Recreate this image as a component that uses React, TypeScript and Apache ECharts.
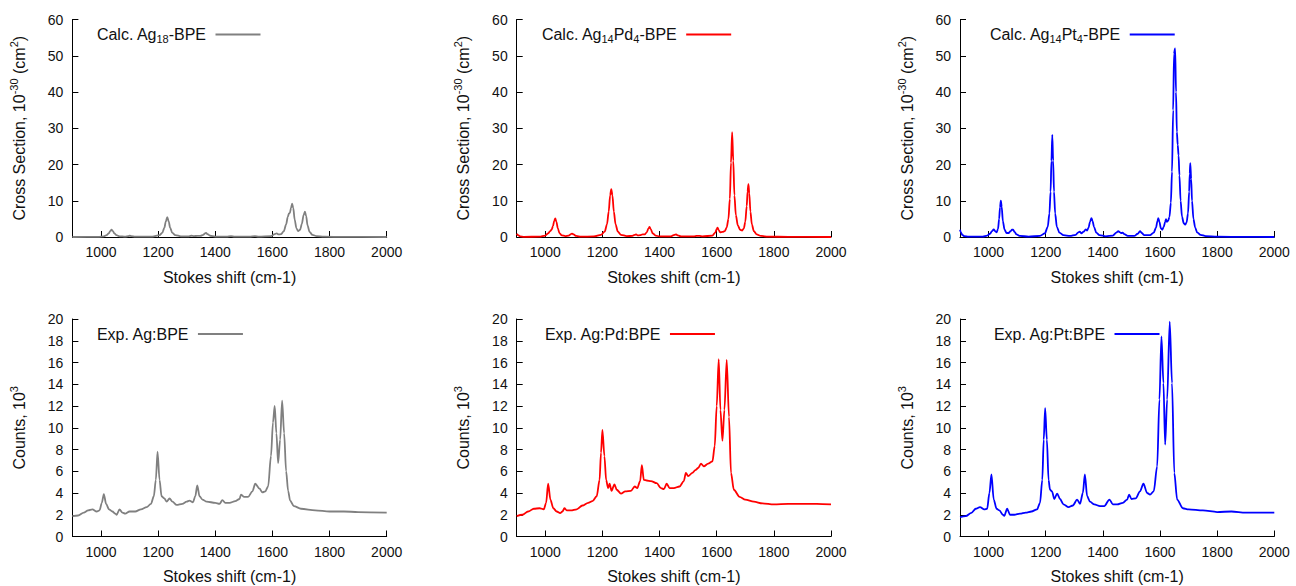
import React, { useEffect, useRef } from 'react';
import * as echarts from 'echarts';

const xTicks = [1000, 1200, 1400, 1600, 1800, 2000];

const calcAg18: [number, number][] = [
  [900, 0], [990, 0.05], [1010, 0.2], [1020, 0.5], [1027, 1.0], [1032, 1.6], [1037, 2.0], [1042, 1.6], [1047, 1.0], [1054, 0.5], [1065, 0.2],
  [1085, 0.1], [1096, 0.25], [1101, 0.35], [1106, 0.25], [1120, 0.08], [1180, 0.1], [1205, 0.5], [1215, 1.2], [1222, 2.6], [1227, 4.3],
  [1232, 5.5], [1237, 4.3], [1242, 2.6], [1249, 1.2], [1260, 0.5], [1280, 0.2], [1305, 0.2], [1316, 0.35], [1325, 0.25], [1338, 0.3],
  [1348, 0.3], [1358, 0.6], [1364, 1.0], [1368, 1.1], [1373, 0.8], [1382, 0.35], [1400, 0.1], [1440, 0.1], [1455, 0.25], [1468, 0.08],
  [1520, 0.08], [1539, 0.25], [1552, 0.08], [1595, 0.25], [1608, 0.8], [1615, 1.0], [1622, 0.7], [1630, 0.8], [1640, 1.6], [1648, 3.5],
  [1654, 5.6], [1658, 6.5], [1661, 6.6], [1665, 8.0], [1669, 9.2], [1673, 8.0], [1678, 4.8], [1684, 2.4], [1690, 1.6], [1697, 2.0],
  [1703, 3.6], [1709, 6.0], [1714, 7.0], [1718, 5.8], [1723, 3.2], [1730, 1.4], [1740, 0.6], [1755, 0.25], [1780, 0.08], [1850, 0.02], [2000, 0],
];

const calcAgPd: [number, number][] = [
  [900, 0.9], [905, 0.5], [912, 0.2], [925, 0.05], [980, 0.1], [1000, 0.4], [1010, 1.0], [1017, 1.6], [1022, 2.0], [1027, 3.0], [1031, 4.4],
  [1035, 5.1], [1039, 4.2], [1044, 2.4], [1050, 1.0], [1058, 0.45], [1070, 0.25], [1082, 0.4], [1090, 0.8], [1094, 0.95], [1099, 0.7],
  [1108, 0.3], [1125, 0.1], [1170, 0.15], [1195, 0.6], [1208, 1.5], [1216, 3.5], [1222, 7.0], [1227, 11.5], [1231, 13.2], [1235, 11.5],
  [1240, 7.0], [1246, 3.5], [1254, 1.5], [1265, 0.6], [1285, 0.25], [1305, 0.3], [1313, 0.6], [1318, 0.7], [1323, 0.45], [1332, 0.5],
  [1341, 0.75], [1348, 0.7], [1355, 1.3], [1361, 2.3], [1365, 2.8], [1369, 2.2], [1376, 1.0], [1386, 0.4], [1400, 0.15], [1440, 0.2],
  [1452, 0.6], [1458, 0.7], [1464, 0.45], [1475, 0.15], [1520, 0.15], [1530, 0.3], [1540, 0.3], [1550, 0.15], [1585, 0.4], [1595, 1.2],
  [1600, 2.2], [1603, 2.6], [1607, 1.9], [1612, 1.3], [1620, 1.4], [1628, 1.6], [1635, 2.6], [1641, 5.0], [1646, 10.5], [1650, 20.5],
  [1654, 28.9], [1658, 21.0], [1662, 11.5], [1667, 6.0], [1674, 3.2], [1682, 2.0], [1689, 1.8], [1695, 2.4], [1700, 4.2], [1705, 8.5],
  [1708, 12.5], [1711, 14.6], [1714, 12.0], [1718, 7.0], [1723, 3.5], [1730, 1.6], [1740, 0.7], [1755, 0.3], [1780, 0.1], [1850, 0.03], [2000, 0],
];

const calcAgPt: [number, number][] = [
  [900, 2.0], [903, 1.3], [908, 0.6], [915, 0.25], [930, 0.08], [980, 0.1], [995, 0.4], [1005, 0.9], [1012, 1.6], [1018, 2.1], [1023, 1.6],
  [1028, 1.3], [1033, 2.2], [1037, 5.0], [1040, 8.2], [1043, 10.0], [1046, 8.3], [1050, 4.4], [1056, 2.0], [1063, 1.1], [1070, 1.1],
  [1077, 1.6], [1082, 2.0], [1086, 2.0], [1091, 1.4], [1098, 0.7], [1110, 0.3], [1140, 0.12], [1180, 0.3], [1197, 1.0], [1207, 2.8],
  [1213, 6.5], [1217, 12.5], [1220, 21.0], [1223, 28.2], [1226, 21.0], [1229, 12.5], [1233, 6.5], [1239, 2.8], [1248, 1.2], [1262, 0.5],
  [1285, 0.3], [1305, 0.6], [1314, 1.3], [1319, 1.5], [1325, 1.0], [1333, 1.5], [1340, 2.1], [1345, 1.8], [1350, 2.6], [1355, 4.2],
  [1360, 5.2], [1364, 4.4], [1369, 2.8], [1377, 1.2], [1388, 0.5], [1410, 0.2], [1435, 0.4], [1447, 1.2], [1454, 1.6], [1460, 1.3],
  [1465, 1.1], [1469, 1.2], [1475, 0.8], [1487, 0.3], [1510, 0.3], [1522, 0.9], [1530, 1.6], [1536, 1.1], [1545, 0.5], [1565, 0.5],
  [1578, 1.2], [1586, 2.6], [1591, 4.4], [1594, 5.2], [1598, 4.2], [1603, 2.4], [1608, 2.0], [1613, 2.8], [1618, 4.2], [1621, 4.9],
  [1624, 4.2], [1628, 4.4], [1633, 5.5], [1638, 9.5], [1642, 18.0], [1646, 35.0], [1649, 50.5], [1651, 50.6], [1653, 52.0], [1656, 40.0],
  [1659, 29.0], [1662, 25.4], [1665, 22.5], [1668, 17.0], [1672, 10.0], [1677, 5.6], [1683, 3.8], [1688, 3.4], [1693, 4.0], [1698, 6.5],
  [1702, 12.5], [1704, 17.5], [1706, 20.4], [1709, 16.0], [1712, 10.0], [1717, 5.0], [1723, 2.6], [1730, 1.3], [1742, 0.6], [1760, 0.25],
  [1800, 0.08], [1900, 0.02], [2000, 0],
];

const expAg: [number, number][] = [
  [900, 1.87], [920, 1.93], [940, 2.2], [955, 2.4], [970, 2.5], [985, 2.3], [995, 2.4], [1003, 3.1], [1010, 3.9], [1018, 3.0], [1028, 2.5],
  [1040, 2.3], [1050, 2.1], [1055, 2.0], [1065, 2.5], [1075, 2.2], [1085, 2.1], [1100, 2.3], [1120, 2.3], [1140, 2.5], [1160, 2.7],
  [1175, 3.0], [1185, 3.7], [1192, 5.2], [1198, 7.8], [1205, 5.2], [1212, 3.7], [1222, 3.5], [1230, 3.2], [1240, 3.5], [1250, 3.2],
  [1265, 2.9], [1285, 3.0], [1300, 3.2], [1310, 3.3], [1322, 3.15], [1330, 3.7], [1337, 4.7], [1345, 3.7], [1355, 3.4], [1370, 3.2],
  [1400, 3.1], [1415, 3.0], [1425, 3.35], [1435, 3.1], [1450, 3.1], [1470, 3.25], [1485, 3.45], [1490, 3.85], [1500, 3.65], [1515, 3.65],
  [1530, 4.15], [1540, 4.85], [1555, 4.4], [1565, 4.05], [1575, 4.15], [1585, 4.6], [1595, 7.4], [1602, 10.5], [1608, 12.0], [1614, 9.5],
  [1620, 6.75], [1627, 8.9], [1634, 12.5], [1641, 9.5], [1648, 6.0], [1655, 4.2], [1662, 3.3], [1675, 2.8], [1700, 2.55], [1750, 2.4],
  [1800, 2.3], [1850, 2.3], [1900, 2.25], [2000, 2.2],
];

const expAgPd: [number, number][] = [
  [900, 1.87], [920, 2.0], [940, 2.3], [960, 2.55], [980, 2.6], [995, 2.5], [1003, 3.1], [1010, 4.85], [1018, 3.4], [1028, 2.6], [1040, 2.3],
  [1052, 2.15], [1060, 2.3], [1067, 2.6], [1075, 2.4], [1090, 2.4], [1110, 2.5], [1130, 2.85], [1150, 3.1], [1165, 3.25], [1180, 3.7],
  [1190, 5.2], [1195, 7.7], [1200, 9.8], [1207, 7.4], [1213, 5.2], [1220, 4.45], [1225, 4.85], [1232, 4.2], [1242, 4.8], [1250, 4.3],
  [1265, 3.95], [1280, 4.15], [1300, 4.2], [1313, 4.6], [1322, 4.45], [1332, 5.1], [1338, 6.55], [1345, 5.2], [1355, 5.15], [1370, 5.1],
  [1390, 4.9], [1405, 4.45], [1415, 4.35], [1425, 4.85], [1435, 4.45], [1450, 4.45], [1470, 4.6], [1485, 5.1], [1492, 5.85], [1500, 5.55],
  [1515, 5.85], [1525, 6.1], [1535, 6.3], [1545, 6.7], [1555, 6.45], [1570, 6.7], [1585, 6.9], [1593, 8.3], [1600, 12.0], [1607, 16.3],
  [1613, 11.65], [1620, 8.8], [1627, 11.65], [1635, 16.25], [1643, 11.0], [1650, 5.85], [1660, 4.3], [1680, 3.65], [1700, 3.4], [1730, 3.2],
  [1760, 3.05], [1800, 2.95], [1850, 3.0], [1900, 3.0], [1950, 3.0], [2000, 2.95],
];

const expAgPt: [number, number][] = [
  [900, 1.77], [920, 1.87], [940, 2.17], [955, 2.55], [970, 2.7], [985, 2.5], [995, 2.55], [1003, 4.0], [1010, 5.7], [1018, 3.4], [1028, 2.55],
  [1038, 2.4], [1050, 2.0], [1055, 1.9], [1065, 2.55], [1075, 2.0], [1090, 2.0], [1110, 2.1], [1130, 2.2], [1150, 2.3], [1170, 2.5],
  [1180, 3.1], [1188, 5.2], [1193, 8.9], [1198, 11.8], [1204, 8.9], [1210, 5.2], [1215, 4.3], [1222, 4.15], [1230, 3.45], [1240, 3.95],
  [1250, 3.45], [1262, 2.95], [1280, 2.7], [1295, 2.85], [1310, 3.4], [1320, 3.0], [1330, 4.0], [1337, 5.7], [1345, 3.7], [1355, 3.2],
  [1370, 2.95], [1390, 2.8], [1405, 2.8], [1423, 3.4], [1435, 2.95], [1450, 2.95], [1470, 3.1], [1485, 3.4], [1492, 3.85], [1500, 3.45],
  [1515, 3.5], [1530, 4.15], [1542, 4.85], [1555, 4.0], [1565, 3.85], [1578, 4.15], [1590, 6.45], [1598, 12.6], [1605, 18.4], [1612, 14.1],
  [1618, 8.45], [1625, 12.6], [1634, 19.75], [1642, 14.1], [1650, 5.85], [1660, 3.4], [1680, 2.6], [1700, 2.5], [1750, 2.4], [1800, 2.25],
  [1850, 2.3], [1900, 2.2], [2000, 2.2],
];

const FONT = '"Liberation Sans", Arial, Helvetica, sans-serif';
const TXT = '#111';

const colLeft = [72.4, 516.7, 960];
const rowTop = [19.5, 319];
const gridW = 314.3;
const gridH = 217.5;

const panels = [
  { name: 'Calc. Ag18-BPE', label: 'Calc. Ag{sub|18}-BPE', color: '#808080', data: calcAg18, row: 0, col: 0, lx: 96 },
  { name: 'Calc. Ag14Pd4-BPE', label: 'Calc. Ag{sub|14}Pd{sub|4}-BPE', color: '#ff0000', data: calcAgPd, row: 0, col: 1, lx: 541 },
  { name: 'Calc. Ag14Pt4-BPE', label: 'Calc. Ag{sub|14}Pt{sub|4}-BPE', color: '#0000ff', data: calcAgPt, row: 0, col: 2, lx: 989 },
  { name: 'Exp. Ag:BPE', label: 'Exp. Ag:BPE', color: '#808080', data: expAg, row: 1, col: 0, lx: 96 },
  { name: 'Exp. Ag:Pd:BPE', label: 'Exp. Ag:Pd:BPE', color: '#ff0000', data: expAgPd, row: 1, col: 1, lx: 544 },
  { name: 'Exp. Ag:Pt:BPE', label: 'Exp. Ag:Pt:BPE', color: '#0000ff', data: expAgPt, row: 1, col: 2, lx: 993 },
];

const rich = {
  sub: { fontSize: 11, fontFamily: FONT, color: TXT, verticalAlign: 'bottom', lineHeight: 11 },
  sup: { fontSize: 11, fontFamily: FONT, color: TXT, verticalAlign: 'top', lineHeight: 11 },
};

export default function App() {
  const ref = useRef<HTMLDivElement>(null);
  useEffect(() => {
    if (!ref.current) return;
    const chart = echarts.init(ref.current, undefined, { renderer: 'svg' });
    const option: any = {
      animation: false,
      backgroundColor: '#fff',
      grid: panels.map((p) => ({ left: colLeft[p.col], top: rowTop[p.row], width: gridW, height: gridH })),
      xAxis: panels.map((p, i) => ({
        gridIndex: i,
        type: 'value',
        min: 900,
        max: 2000,
        axisLine: { show: true, lineStyle: { color: '#000', width: 1 } },
        axisTick: { show: true, inside: true, length: 6, customValues: xTicks, lineStyle: { color: '#000' } },
        axisLabel: { customValues: xTicks, fontSize: 14, color: TXT, fontFamily: FONT, margin: 8, formatter: (v: number) => String(v) },
        splitLine: { show: false },
        name: 'Stokes shift (cm-1)',
        nameLocation: 'middle',
        nameGap: 32,
        nameTextStyle: { fontSize: 16, color: TXT, fontFamily: FONT },
      })),
      yAxis: panels.map((p, i) => ({
        gridIndex: i,
        type: 'value',
        min: 0,
        max: p.row === 0 ? 60 : 20,
        interval: p.row === 0 ? 10 : 2,
        axisLine: { show: true, lineStyle: { color: '#000', width: 1 } },
        axisTick: { show: true, inside: true, length: 6, lineStyle: { color: '#000' } },
        axisLabel: { fontSize: 14, color: TXT, fontFamily: FONT, margin: 9 },
        splitLine: { show: false },
        name: p.row === 0 ? 'Cross Section, 10{sup|-30} (cm{sup|2})' : 'Counts, 10{sup|3}',
        nameLocation: 'middle',
        nameRotate: 90,
        nameGap: 42,
        nameTextStyle: { fontSize: 16, color: TXT, fontFamily: FONT, lineHeight: 22, rich },
      })),
      legend: panels.map((p) => ({
        data: [{ name: p.name, icon: 'rect' }],
        left: p.lx,
        top: rowTop[p.row] + 5,
        padding: 0,
        align: 'right',
        itemWidth: 45,
        itemHeight: 2,
        selectedMode: false,
        itemStyle: { color: p.color, borderWidth: 0 },
        lineStyle: { width: 0 },
        formatter: () => p.label + ' ',
        textStyle: { fontSize: 16, color: TXT, fontFamily: FONT, lineHeight: 20, rich },
      })),
      series: panels.map((p, i) => ({
        name: p.name,
        type: 'line',
        xAxisIndex: i,
        yAxisIndex: i,
        data: p.data,
        showSymbol: false,
        symbol: 'none',
        smooth: 0.3,
        smoothMonotone: 'x',
        lineStyle: { color: p.color, width: 1.8 },
        itemStyle: { color: p.color },
      })),
    };
    chart.setOption(option);
    return () => chart.dispose();
  }, []);
  return <div ref={ref} style={{ position: 'absolute', left: 0, top: 0, width: 1296, height: 586 }} />;
}
